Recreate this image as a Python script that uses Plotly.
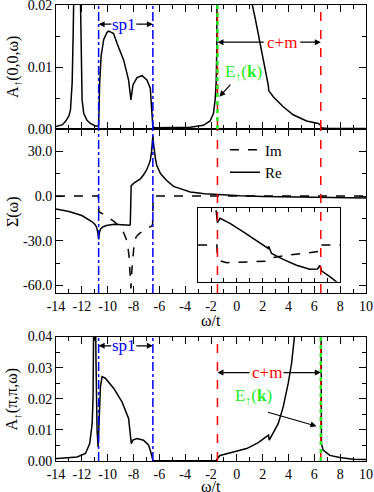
import plotly.graph_objects as go

FONT = "Liberation Serif, Times New Roman, Times, serif"

# A_up(0,0,w): spectral function at k=(0,0)
w_k0 = [-14, -13.5, -13.27, -13.0, -12.88, -12.75, -12.67, -12.6, -12.4, -12.2, -12.1, -12.05,
        -11.98, -11.85, -11.6, -11.34, -10.95, -10.75, -10.7, -10.62, -10.51, -10.31, -10.05,
        -9.92, -9.54, -9.27, -8.76, -8.38, -8.25, -8.2, -8.04, -7.73, -7.34, -6.96, -6.7,
        -6.57, -6.5, -6.3, -5.0, -4.0, -3.61, -2.59, -2.07, -1.81, -1.68, -1.6, -1.55, -1.5,
        0.0, 1.0, 1.2, 1.4, 1.66, 1.92, 2.18, 2.38, 2.44, 2.47, 2.82, 3.59, 4.36, 5.4, 6.3,
        6.45, 6.52, 7.0, 8.0, 10.0]
a_k0 = [0.0004, 0.0007, 0.0012, 0.0021, 0.0031, 0.0074, 0.0155, 0.03, 0.05, 0.04, 0.02, 0.01,
        0.0047, 0.0025, 0.0014, 0.0009, 0.0005, 0.0005, 0.0006, 0.0074, 0.0117, 0.0144, 0.0156,
        0.0158, 0.0154, 0.0138, 0.0111, 0.0079, 0.006, 0.0047, 0.0071, 0.0083, 0.0086, 0.0079, 0.0066,
        0.0031, 0.0003, 0.0002, 0.0002, 0.0002, 0.0003, 0.0006, 0.0013, 0.0025, 0.0047, 0.0074, 0.0128, 0.06,
        0.05, 0.03, 0.02, 0.0181, 0.0154, 0.0127, 0.01, 0.0076, 0.007, 0.0062, 0.0052, 0.0036, 0.0023, 0.0013, 0.0009,
        0.0007, 0.0002, 0.0001, 0.0001, 0.0001]

# self energy Sigma(w)
w_re = [-14, -13, -12, -11.5, -11.2, -11.0, -10.85, -10.75, -10.7, -10.65, -10.55, -10.35, -10.1,
        -9.5, -9.0, -8.6, -8.3, -8.25, -8.22, -8.18, -8.0, -7.75, -7.47, -7.2, -6.96, -6.8, -6.7,
        -6.6, -6.55, -6.5, -6.45, -6.4, -6.3, -6.19, -5.9, -5.41, -4.9, -4.39, -3.6, -2.5, -1.55,
        0.25, 2.0, 4.0, 6.0, 8.0, 10.0]
sigma_re = [-8.7, -10.3, -13.0, -15.3, -17.2, -18.8, -21.0, -25.0, -29.0, -25.0, -22.0, -20.5, -19.7,
            -18.8, -19.0, -19.3, -19.6, -19.0, 0.0, 6.9, 8.5, 10.0, 11.6, 14.5, 18.0, 21.5, 24.0,
            30.0, 35.0, 40.5, 35.0, 31.0, 25.0, 20.3, 15.0, 10.3, 6.5, 5.0, 2.8, 1.6, 1.0,
            0.2, -0.3, -0.6, -0.9, -1.1, -1.3]
w_im = [-14, -10.72, -10.68, -10.56, -10.05, -9.41, -8.89, -8.56, -8.45, -8.35, -8.27, -8.2,
        -8.13, -8.05, -7.94, -7.8, -7.6, -7.3, -6.96, -6.57, -6.52, -6.48, 10.0]
sigma_im = [0.0, 0.0, -10.5, -11.0, -13.6, -17.7, -22.0, -28.8, -33.0, -40.0, -50.0, -62.0,
            -50.0, -40.0, -31.0, -27.5, -25.5, -23.5, -22.0, -19.9, -19.0, 0.0, 0.0]

# inset: zoom of Sigma in the c+m window
w_in_re = [-1.61, -1.56, -1.5, -1.3, -0.53, 0.5, 1.54, 2.31, 2.43, 2.46, 2.69, 3.59, 4.62, 5.65,
           6.25, 6.42, 6.55, 7.2, 7.7, 8.0]
in_re = [0.95, 0.77, 0.61, 0.73, 0.59, 0.36, 0.12, -0.07, -0.09, -0.03, -0.23, -0.39, -0.55, -0.66,
         -0.65, -0.55, -0.7, -0.86, -1.0, -1.08]
w_in_im = [-3.0, -1.55, -1.5, -1.3, -0.78, 1.02, 2.25, 2.56, 3.59, 5.14, 6.3, 6.45, 6.5, 8.0]
in_im = [0.0, 0.0, -0.32, -0.43, -0.48, -0.45, -0.44, -0.36, -0.29, -0.23, -0.18, -0.17, 0.0, 0.0]

# A_up(pi,pi,w): spectral function at k=(pi,pi)
w_kpi = [-14, -13.9, -12.36, -11.72, -11.39, -11.2, -11.13, -11.08, -11.02, -10.95, -10.9, -10.82,
         -10.74, -10.64, -10.56, -10.43, -10.18, -9.54, -8.89, -8.38, -8.17, -8.05, -7.73, -7.22,
         -6.83, -6.63, -6.5, -6.4, -1.6, -1.5, -1.3, -0.27, 0.76, 1.66, 2.31, 2.45, 2.51, 2.69,
         3.2, 3.59, 3.98, 4.24, 4.44, 4.6, 5.5, 6.47, 6.5, 6.55, 6.68, 7.2, 7.97, 9.0, 10.0]
a_kpi = [0.0008, 0.0008, 0.0013, 0.0024, 0.0056, 0.012, 0.0206, 0.045, 0.08, 0.05, 0.031, 0.0099,
         0.0045, 0.0153, 0.0239, 0.0271, 0.0266, 0.0234, 0.019, 0.0137, 0.0056, 0.0067, 0.0072, 0.0067,
         0.0051, 0.0024, 0.0002, 0.0001, 0.0001, 0.0008, 0.0018, 0.0029, 0.004, 0.0059, 0.0077, 0.0083,
         0.0067, 0.008, 0.012, 0.0174, 0.025, 0.0314, 0.0379, 0.045, 0.08, 0.12, 0.02, 0.0056, 0.0035,
         0.0018, 0.0011, 0.0006, 0.0005]

sp1_edges = [-10.7, -6.5]
cm_edges = [-1.5, 6.5]
ek_top = -1.5
ek_bottom = 6.5

xtick_vals = list(range(-14, 11, 2))
xtick_text = [str(v) for v in xtick_vals]
xminor_vals = list(range(-13, 10, 2))
ytop_vals = [0.0, 0.01, 0.02]
ytop_text = ["0.00", "0.01", "0.02"]
ymid_vals = [-60, -30, 0, 30]
ymid_text = ["-60.0", "-30.0", "0.0", "30.0"]
ybot_vals = [0.0, 0.01, 0.02, 0.03, 0.04]
ybot_text = ["0.00", "0.01", "0.02", "0.03", "0.04"]

BLUE = "#0000ff"
RED = "#ff0000"
GREEN = "#22ee22"
LW = 1.5

fig = go.Figure()
fig.add_trace(go.Scatter(x=w_k0, y=a_k0, mode="lines", line=dict(color="black", width=LW),
                         showlegend=False, xaxis="x", yaxis="y"))
fig.add_trace(go.Scatter(x=w_im, y=sigma_im, mode="lines", name="Im",
                         line=dict(color="black", width=LW, dash="dash"), xaxis="x2", yaxis="y2"))
fig.add_trace(go.Scatter(x=w_re, y=sigma_re, mode="lines", name="Re",
                         line=dict(color="black", width=LW), xaxis="x2", yaxis="y2"))
fig.add_trace(go.Scatter(x=w_kpi, y=a_kpi, mode="lines", line=dict(color="black", width=LW),
                         showlegend=False, xaxis="x3", yaxis="y3"))
fig.add_trace(go.Scatter(x=w_in_im, y=in_im, mode="lines", line=dict(color="black", width=LW, dash="dash"),
                         showlegend=False, xaxis="x4", yaxis="y4"))
fig.add_trace(go.Scatter(x=w_in_re, y=in_re, mode="lines", line=dict(color="black", width=LW),
                         showlegend=False, xaxis="x4", yaxis="y4"))

# vertical marker lines in every panel
for xr, yr in [("x", "y"), ("x2", "y2"), ("x3", "y3")]:
    for xv in sp1_edges:
        fig.add_shape(type="line", xref=xr, yref=yr + " domain", x0=xv, x1=xv, y0=0, y1=1,
                      line=dict(color=BLUE, width=LW, dash="dashdot"))
    for xv in cm_edges:
        fig.add_shape(type="line", xref=xr, yref=yr + " domain", x0=xv, x1=xv, y0=0, y1=1,
                      line=dict(color=RED, width=LW, dash="dash"))
for xr, yr, xv in [("x", "y", ek_top), ("x3", "y3", ek_bottom)]:
    fig.add_shape(type="line", xref=xr, yref=yr + " domain", x0=xv, x1=xv, y0=0, y1=1,
                  line=dict(color=GREEN, width=2.5, dash="4px,4px"))

# inset frame domain
in_dom_x = [0.4565, 0.916]
in_dom_y = [0.393, 0.554]
in_range_x = [-14 + 24 * in_dom_x[0], -14 + 24 * in_dom_x[1]]

axis_common = dict(showline=True, linecolor="black", linewidth=1, mirror="ticks", ticks="inside",
                   ticklen=7, tickcolor="black", showgrid=False, zeroline=False, automargin=False,
                   ticklabeloverflow="allow",
                   tickfont=dict(family=FONT, size=14, color="black"))
xcommon = dict(axis_common, range=[-14, 10], tickmode="array", tickvals=xtick_vals, ticktext=xtick_text,
               minor=dict(tickmode="array", tickvals=xminor_vals, ticklen=4, ticks="inside", tickcolor="black"))

d_top = [0.728, 1.0]
d_mid = [0.3684, 0.728]
d_bot = [0.0, 0.273]

fig.update_layout(
    width=374, height=492,
    margin=dict(l=56, r=8, t=5, b=31, autoexpand=False),
    paper_bgcolor="white", plot_bgcolor="white",
    font=dict(family=FONT, size=14, color="black"),
    xaxis=dict(xcommon, anchor="y", showticklabels=False),
    yaxis=dict(axis_common, domain=d_top, anchor="x", range=[0, 0.02], tickmode="array",
               tickvals=ytop_vals, ticktext=ytop_text,
               minor=dict(dtick=0.005, ticklen=4, ticks="inside", tickcolor="black")),
    xaxis2=dict(xcommon, anchor="y2"),
    yaxis2=dict(axis_common, domain=d_mid, anchor="x2", range=[-65, 45], tickmode="array",
                tickvals=ymid_vals, ticktext=ymid_text,
                minor=dict(dtick=15, tick0=0, ticklen=4, ticks="inside", tickcolor="black")),
    xaxis3=dict(xcommon, anchor="y3"),
    yaxis3=dict(axis_common, domain=d_bot, anchor="x3", range=[0, 0.04], tickmode="array",
                tickvals=ybot_vals, ticktext=ybot_text,
                minor=dict(dtick=0.005, ticklen=4, ticks="inside", tickcolor="black")),
    xaxis4=dict(domain=in_dom_x, anchor="y4", range=in_range_x, showline=True, linecolor="black",
                linewidth=1, mirror="ticks", ticks="inside", ticklen=4, dtick=1, tick0=0,
                tickcolor="black", showticklabels=False, showgrid=False, zeroline=False),
    yaxis4=dict(domain=in_dom_y, anchor="x4", range=[-1, 1], showline=True, linecolor="black",
                linewidth=1, mirror=True, ticks="", showticklabels=False, showgrid=False, zeroline=False),
    legend=dict(x=0.545, y=0.718, xanchor="left", yanchor="top", bgcolor="rgba(0,0,0,0)",
                font=dict(family=FONT, size=15), tracegroupgap=0),
)

ann = []


def label(text, x, y, xr, yr, color, size=17):
    ann.append(dict(text=text, x=x, y=y, xref=xr, yref=yr, showarrow=False,
                    font=dict(family=FONT, size=size, color=color)))


def arrow(x0, y0, x1, y1, xr, yr):
    ann.append(dict(text="", x=x1, y=y1, ax=x0, ay=y0, xref=xr, yref=yr, axref=xr, ayref=yr,
                    showarrow=True, arrowhead=2, arrowsize=1, arrowwidth=1.2, arrowcolor="black"))


# top panel labels
label("sp1", -8.76, 0.0169, "x", "y", BLUE)
arrow(-9.6, 0.0169, sp1_edges[0], 0.0169, "x", "y")
arrow(-7.9, 0.0169, sp1_edges[1], 0.0169, "x", "y")
label("c+m", 3.5, 0.014, "x", "y", RED)
arrow(2.2, 0.014, cm_edges[0], 0.014, "x", "y")
arrow(4.8, 0.014, cm_edges[1], 0.014, "x", "y")
label("E<sub>↑</sub>(<b>k</b>)", 0.5, 0.009, "x", "y", GREEN)
arrow(-0.39, 0.0074, -1.35, 0.0052, "x", "y")

# bottom panel labels
label("sp1", -8.76, 0.037, "x3", "y3", BLUE)
arrow(-9.6, 0.037, sp1_edges[0], 0.037, "x3", "y3")
arrow(-7.9, 0.037, sp1_edges[1], 0.037, "x3", "y3")
label("c+m", 2.3, 0.0284, "x3", "y3", RED)
arrow(1.1, 0.0284, cm_edges[0], 0.0284, "x3", "y3")
arrow(3.5, 0.0284, cm_edges[1], 0.0284, "x3", "y3")
label("E<sub>↑</sub>(<b>k</b>)", 1.27, 0.0206, "x3", "y3", GREEN)
arrow(2.3, 0.0158, 6.17, 0.0112, "x3", "y3")

# axis titles
for text, yc in [("A<sub>↑</sub>(0,0,ω)", 0.864), ("Σ(ω)", 0.548), ("A<sub>↑</sub>(π,π,ω)", 0.137)]:
    ann.append(dict(text=text, x=-0.139, y=yc, xref="paper", yref="paper", showarrow=False,
                    textangle=-90, xanchor="center", yanchor="middle",
                    font=dict(family=FONT, size=16, color="black")))
for yc in [0.308, -0.057]:
    ann.append(dict(text="ω/t", x=0.5, y=yc, xref="paper", yref="paper", showarrow=False,
                    xanchor="center", yanchor="middle", font=dict(family=FONT, size=16, color="black")))

fig.update_layout(annotations=ann)
# drop the default page margin so the 374x492 figure fills the window exactly
fig.write_html("out.html", config={"displayModeBar": False},
               post_script="document.body.style.margin='0';")
